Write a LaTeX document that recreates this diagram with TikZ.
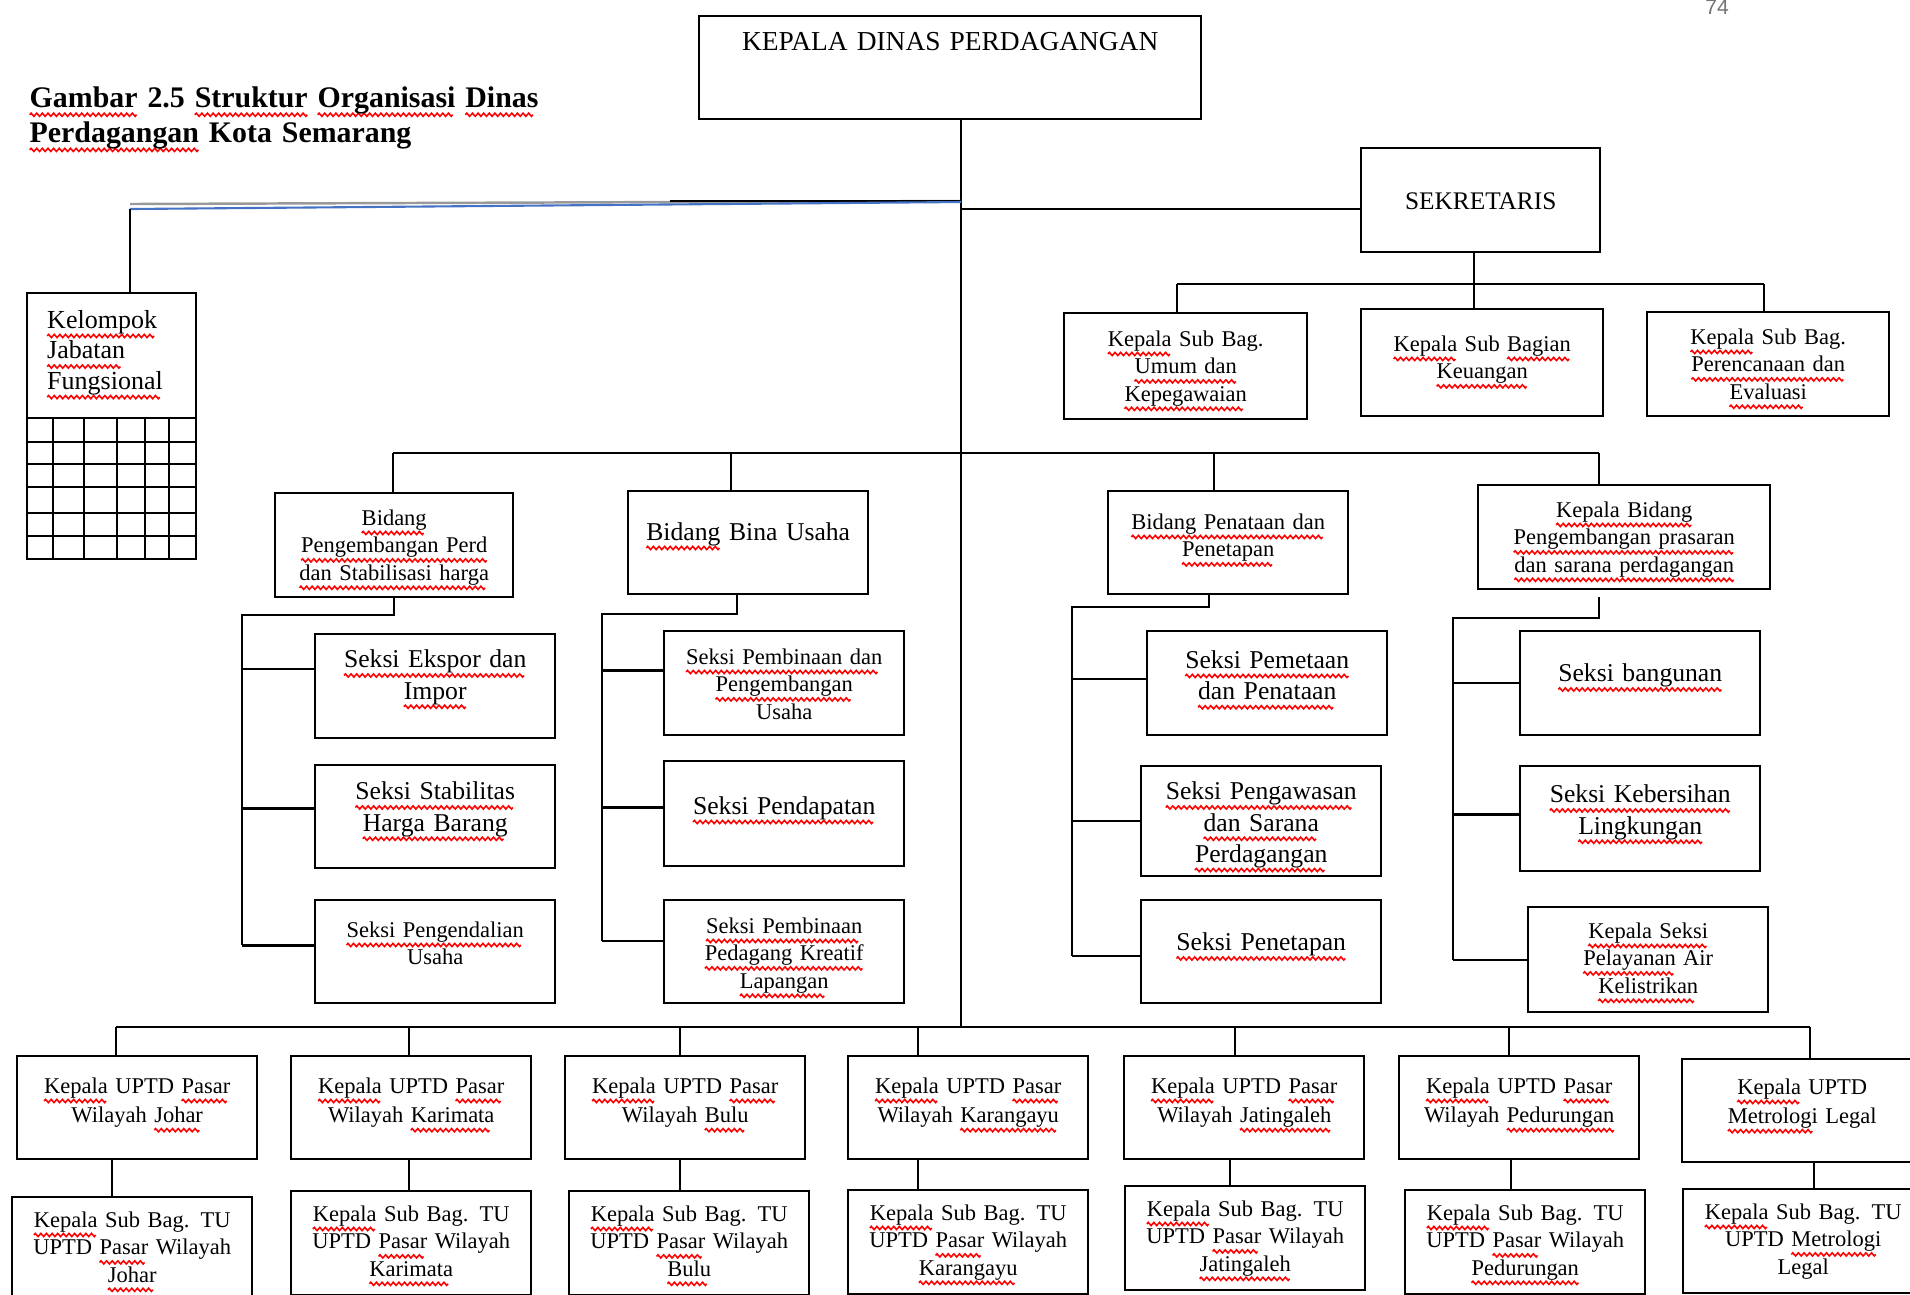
\documentclass[tikz,border=0pt]{standalone}
\usepackage{fontspec}
\setmainfont{Liberation Serif}
\newfontfamily\pagefont{Liberation Sans}
\newsavebox\wavebox
\AtBeginDocument{\sbox\wavebox{\begin{pgfpicture}%
\pgfpathmoveto{\pgfpointorigin}%
\pgfpathsine{\pgfpoint{0.4pt}{0.45pt}}%
\pgfpathcosine{\pgfpoint{0.4pt}{-0.45pt}}%
\pgfpathsine{\pgfpoint{0.4pt}{-0.45pt}}%
\pgfpathcosine{\pgfpoint{0.4pt}{0.45pt}}%
\pgfsetlinewidth{0.45pt}\pgfsetstrokecolor{red}%
\pgfusepath{stroke}%
\pgfresetboundingbox
\pgfpathrectangle{\pgfpointorigin}{\pgfpoint{1.6pt}{0pt}}\pgfusepath{use as bounding box}%
\end{pgfpicture}}}
\newcommand{\sqg}[1]{\leavevmode\setbox0\hbox{#1}\rlap{\lower2.2pt\hbox to\wd0{\leaders\copy\wavebox\hfill}}\box0\relax}
\definecolor{wordblue}{RGB}{68,114,196}
\tikzstyle{box}=[draw, line width=0.7pt, anchor=north west, inner sep=0pt, align=center]
\tikzstyle{sbox}=[box, text width=24mm, font=\fontsize{6.4}{7.8}\selectfont]
\tikzstyle{bbox}=[box, text width=24mm, font=\fontsize{7.3}{8.9}\selectfont]
\tikzstyle{ubox}=[box, text width=24mm, font=\fontsize{6.4}{8.3}\selectfont, text height=3.7mm, text depth=6.6mm]
\tikzstyle{tbox}=[box, text width=24mm, font=\fontsize{6.4}{7.8}\selectfont, text height=3mm, text depth=7.4mm]
\tikzstyle{conn}=[line width=0.7pt]

\begin{document}
\begin{tikzpicture}[x=0.1mm, y=-0.1mm]
\useasboundingbox (0,0) rectangle (1910,1294);
\clip (0,0) rectangle (1910,1294);

% heading
\node[anchor=base west, text width=60mm, align=left, inner sep=0pt, font=\fontsize{8.5}{10}\selectfont\bfseries] (title) at (29,107) {\sqg{Gambar} 2.5 \sqg{Struktur} \sqg{Organisasi} \sqg{Dinas}\\\sqg{Perdagangan} Kota Semarang};
\node[text=black!55, inner sep=0pt, font=\pagefont\fontsize{6}{7}\selectfont] (page) at (1717,7) {74};

% top level
\node[box, text width=50.2mm, text height=3.4mm, text depth=6.9mm, font=\fontsize{7.8}{9}\selectfont] (kadin) at (698,15) {KEPALA DINAS PERDAGANGAN};
\node[box, text width=23.9mm, text height=6.1mm, text depth=4.3mm, font=\fontsize{7.2}{9}\selectfont] (sekr) at (1360,147) {SEKRETARIS};
\node[sbox, text width=24.3mm, text height=3.3mm, text depth=7.3mm] (umum) at (1063,312) {\sqg{Kepala} Sub Bag.\\\sqg{Umum dan}\\\sqg{Kepegawaian}};
\node[sbox, text width=24.2mm, text height=4.2mm, text depth=6.5mm] (keu) at (1360,308) {\sqg{Kepala} Sub \sqg{Bagian}\\\sqg{Keuangan}};
\node[sbox, text width=24.2mm, text height=3.2mm, text depth=7.2mm] (renc) at (1646,311) {\sqg{Kepala} Sub Bag.\\\sqg{Perencanaan dan}\\\sqg{Evaluasi}};
\node[box, text width=16.9mm, text height=3.5mm, text depth=23.1mm, align=left, font=\fontsize{7.4}{8.7}\selectfont] (kjf) at (26,292) {\hspace*{2mm}\sqg{Kelompok}\\\hspace*{2mm}\sqg{Jabatan}\\\hspace*{2mm}\sqg{Fungsional}};
\draw[line width=0.6pt] (26,418) -- (195,418) (26,442) -- (195,442) (26,464) -- (195,464) (26,487) -- (195,487) (26,513) -- (195,513) (26,536) -- (195,536);
\draw[line width=0.6pt] (53,418) -- (53,558) (84,418) -- (84,558) (117,418) -- (117,558) (145,418) -- (145,558) (169,418) -- (169,558);

% bidang
\node[sbox, text width=23.8mm, text height=3.2mm, text depth=7.2mm] (perd) at (274,492) {\sqg{Bidang}\\\sqg{Pengembangan Perd}\\\sqg{dan Stabilisasi harga}};
\node[bbox, text height=4.9mm, text depth=5.4mm] (bina) at (627,490) {\sqg{Bidang} Bina Usaha};
\node[sbox, text height=3.8mm, text depth=6.5mm] (pent) at (1107,490) {\sqg{Bidang Penataan dan}\\\sqg{Penetapan}};
\node[sbox, text width=29.2mm, text height=3.2mm, text depth=7.2mm] (pras) at (1477,484) {\sqg{Kepala Bidang}\\\sqg{Pengembangan prasaran}\\\sqg{dan sarana perdagangan}};

% seksi
\node[bbox, text height=3.35mm, text depth=7.05mm] (ekspor) at (314,633) {\sqg{Seksi Ekspor dan}\\\sqg{Impor}};
\node[bbox, text height=3.45mm, text depth=6.85mm] (stab) at (314,764) {\sqg{Seksi Stabilitas}\\\sqg{Harga Barang}};
\node[sbox, text height=3.7mm, text depth=6.6mm] (pengend) at (314,899) {\sqg{Seksi Pengendalian}\\Usaha};
\node[sbox, text height=3.3mm, text depth=7.1mm] (pembin) at (663,630) {\sqg{Seksi Pembinaan dan}\\\sqg{Pengembangan}\\Usaha};
\node[bbox, text height=5.3mm, text depth=5.2mm] (pendap) at (663,760) {\sqg{Seksi Pendapatan}};
\node[sbox, text height=3.3mm, text depth=7mm] (pedag) at (663,899) {\sqg{Seksi Pembinaan}\\\sqg{Pedagang Kreatif}\\\sqg{Lapangan}};
\node[bbox, text height=3.7mm, text depth=6.7mm] (pemet) at (1146,630) {\sqg{Seksi Pemetaan}\\\sqg{dan Penataan}};
\node[bbox, text height=3.35mm, text depth=7.65mm] (pengaw) at (1140,765) {\sqg{Seksi Pengawasan}\\\sqg{dan Sarana}\\\sqg{Perdagangan}};
\node[bbox, text height=5.05mm, text depth=5.25mm] (penet) at (1140,899) {\sqg{Seksi Penetapan}};
\node[bbox, text height=5.05mm, text depth=5.35mm] (bang) at (1519,630) {\sqg{Seksi bangunan}};
\node[bbox, text height=3.65mm, text depth=6.85mm] (bersih) at (1519,765) {\sqg{Seksi Kebersihan}\\\sqg{Lingkungan}};
\node[sbox, text height=3.1mm, text depth=7.4mm] (pelay) at (1527,906) {\sqg{Kepala Seksi}\\\sqg{Pelayanan} Air\\\sqg{Kelistrikan}};

% uptd
\node[ubox] (u1) at (16,1055) {\sqg{Kepala} UPTD \sqg{Pasar}\\Wilayah \sqg{Johar}};
\node[ubox] (u2) at (290,1055) {\sqg{Kepala} UPTD \sqg{Pasar}\\Wilayah \sqg{Karimata}};
\node[ubox] (u3) at (564,1055) {\sqg{Kepala} UPTD \sqg{Pasar}\\Wilayah \sqg{Bulu}};
\node[ubox] (u4) at (847,1055) {\sqg{Kepala} UPTD \sqg{Pasar}\\Wilayah \sqg{Karangayu}};
\node[ubox] (u5) at (1123,1055) {\sqg{Kepala} UPTD \sqg{Pasar}\\Wilayah \sqg{Jatingaleh}};
\node[ubox] (u6) at (1398,1055) {\sqg{Kepala} UPTD \sqg{Pasar}\\Wilayah \sqg{Pedurungan}};
\node[ubox, text height=3.5mm, text depth=6.8mm] (u7) at (1681,1058) {\sqg{Kepala} UPTD\\\sqg{Metrologi} Legal};
\node[tbox] (t1) at (11,1196) {\sqg{Kepala} Sub Bag. TU\\UPTD \sqg{Pasar} Wilayah\\\sqg{Johar}};
\node[tbox] (t2) at (290,1190) {\sqg{Kepala} Sub Bag. TU\\UPTD \sqg{Pasar} Wilayah\\\sqg{Karimata}};
\node[tbox] (t3) at (568,1190) {\sqg{Kepala} Sub Bag. TU\\UPTD \sqg{Pasar} Wilayah\\\sqg{Bulu}};
\node[tbox] (t4) at (847,1189) {\sqg{Kepala} Sub Bag. TU\\UPTD \sqg{Pasar} Wilayah\\\sqg{Karangayu}};
\node[tbox] (t5) at (1124,1185) {\sqg{Kepala} Sub Bag. TU\\UPTD \sqg{Pasar} Wilayah\\\sqg{Jatingaleh}};
\node[tbox] (t6) at (1404,1189) {\sqg{Kepala} Sub Bag. TU\\UPTD \sqg{Pasar} Wilayah\\\sqg{Pedurungan}};
\node[tbox] (t7) at (1682,1188) {\sqg{Kepala} Sub Bag. TU\\UPTD \sqg{Metrologi}\\Legal};

% trunk and top lines
\coordinate (t0) at (961,209);
\coordinate (tend) at (961,1027);
\draw[conn] (tend |- kadin.south) -- (tend);
\draw[conn] (t0) -- (t0 -| sekr.west);
\coordinate (bl) at (130,209);
\coordinate (g0) at (130,204);
\coordinate (g1) at (961,201);
\coordinate (g2) at (670,201);
\coordinate (b0) at (961,202);
\draw[conn, black!40] (g0) -- (g1);
\draw[conn] (g2) -- (g1);
\draw[line width=0.6pt, wordblue] (bl) -- (b0);
\draw[conn] (bl) -- (bl |- kjf.north);

% sekretaris
\coordinate (s1) at (1177,284);
\coordinate (s2) at (1474,284);
\coordinate (s3) at (1764,284);
\draw[conn] (s1) -- (s3);
\draw[conn] (s2 |- sekr.south) -- (s2 |- keu.north);
\draw[conn] (s1) -- (s1 |- umum.north);
\draw[conn] (s3) -- (s3 |- renc.north);

% bidang
\coordinate (b1) at (393,453);
\coordinate (b2) at (731,453);
\coordinate (b3) at (1214,453);
\coordinate (b4) at (1599,453);
\draw[conn] (b1) -- (b4);
\draw[conn] (b1) -- (b1 |- perd.north);
\draw[conn] (b2) -- (b2 |- bina.north);
\draw[conn] (b3) -- (b3 |- pent.north);
\draw[conn] (b4) -- (b4 |- pras.north);

\coordinate (c1) at (242,615);
\draw[conn] (perd.south) |- (c1) -- (c1 |- pengend.177);
\draw[conn] (c1 |- ekspor.172) -- (ekspor.172);
\draw[conn] (c1 |- stab.176) -- (stab.176);
\draw[conn] (c1 |- pengend.177) -- (pengend.177);

\coordinate (c2t) at (737,614);
\coordinate (c2) at (602,614);
\draw[conn] (c2t |- bina.south) -- (c2t) -- (c2) -- (c2 |- pedag.175);
\draw[conn] (c2 |- pembin.174) -- (pembin.174);
\draw[conn] (c2 |- pendap.177) -- (pendap.177);
\draw[conn] (c2 |- pedag.175) -- (pedag.175);

\coordinate (c3t) at (1209,607);
\coordinate (c3) at (1072,607);
\draw[conn] (c3t |- pent.south) -- (c3t) -- (c3) -- (c3 |- penet.182);
\draw[conn] (c3 |- pemet.178) -- (pemet.178);
\draw[conn] (c3 |- pengaw.west) -- (pengaw.west);
\draw[conn] (c3 |- penet.182) -- (penet.182);

\coordinate (c4s) at (1599,597);
\coordinate (c4t) at (1599,618);
\coordinate (c4) at (1453,618);
\draw[conn] (c4s) -- (c4t) -- (c4) -- (c4 |- pelay.west);
\draw[conn] (c4 |- bang.west) -- (bang.west);
\draw[conn] (c4 |- bersih.178) -- (bersih.178);
\draw[conn] (c4 |- pelay.west) -- (pelay.west);

% uptd
\coordinate (d1) at (116,1027);
\coordinate (d2) at (409,1027);
\coordinate (d3) at (680,1027);
\coordinate (d4) at (918,1027);
\coordinate (d5) at (1235,1027);
\coordinate (d6) at (1509,1027);
\coordinate (d7) at (1810,1027);
\draw[conn] (d1) -- (d7);
\draw[conn] (d1) -- (d1 |- u1.north);
\draw[conn] (d2) -- (d2 |- u2.north);
\draw[conn] (d3) -- (d3 |- u3.north);
\draw[conn] (d4) -- (d4 |- u4.north);
\draw[conn] (d5) -- (d5 |- u5.north);
\draw[conn] (d6) -- (d6 |- u6.north);
\draw[conn] (d7) -- (d7 |- u7.north);
\coordinate (e1) at (112,1190);
\coordinate (e2) at (409,1190);
\coordinate (e3) at (680,1190);
\coordinate (e4) at (918,1190);
\coordinate (e5) at (1230,1190);
\coordinate (e6) at (1511,1190);
\coordinate (e7) at (1814,1190);
\draw[conn] (e1 |- u1.south) -- (e1 |- t1.north);
\draw[conn] (e2 |- u2.south) -- (e2 |- t2.north);
\draw[conn] (e3 |- u3.south) -- (e3 |- t3.north);
\draw[conn] (e4 |- u4.south) -- (e4 |- t4.north);
\draw[conn] (e5 |- u5.south) -- (e5 |- t5.north);
\draw[conn] (e6 |- u6.south) -- (e6 |- t6.north);
\draw[conn] (e7 |- u7.south) -- (e7 |- t7.north);
\end{tikzpicture}
\end{document}
